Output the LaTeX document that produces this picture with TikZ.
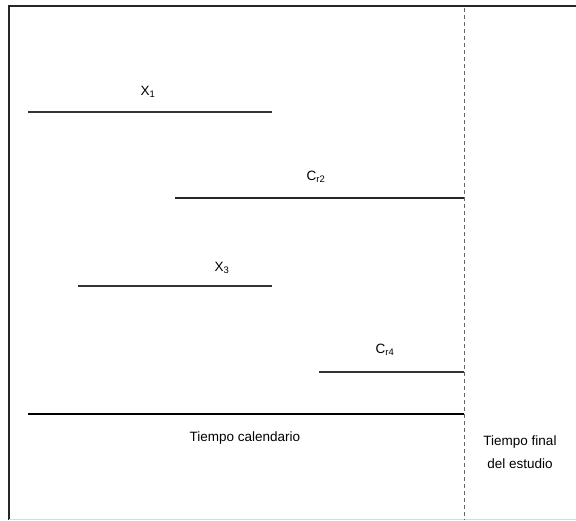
\documentclass[tikz,border=0pt]{standalone}
\usepackage{fontspec}
\setmainfont{Liberation Sans}
\usetikzlibrary{positioning}
\tikzset{span/.style = {draw, line width = 1.3pt, color = black!80}}
\tikzset{thickspan/.style = {draw, line width = 1.9pt, color = black!85}}
\tikzset{lab/.style = {inner sep = 0, font = \fontsize{13.5}{23}\selectfont}}

\begin{document}
\begin{tikzpicture}[x = 1pt, y = -1pt]
      \useasboundingbox (0, 0) rectangle (576, 520);
      % frame and end of study
      \draw [line width = 2.2pt, black!85] (576, 6) -- (9, 6) -- (9, 520);
      \draw [black!15] (9, 519.5) -- (576, 519.5);
      \coordinate (top) at (464, 8);
      \coordinate (bot) at (464, 520);
      \draw [dashed, black!60, dash pattern = on 4pt off 3pt] (top) -- (bot);
      % follow-up periods
      \coordinate (x1a) at (28, 112);
      \coordinate (x1b) at (272, 112);
      \draw [span] (x1a) -- (x1b);
      \node [lab] (x1) at (148, 92) {X\textsubscript{1}};
      \coordinate (c2a) at (175, 198);
      \coordinate (c2b) at (464, 198);
      \draw [thickspan] (c2a) -- (c2b);
      \node [lab] (c2) at (316, 177) {C\textsubscript{r2}};
      \coordinate (x3a) at (78, 286);
      \coordinate (x3b) at (272, 286);
      \draw [span] (x3a) -- (x3b);
      \node [lab] (x3) at (222, 268) {X\textsubscript{3}};
      \coordinate (c4a) at (319, 372);
      \coordinate (c4b) at (464, 372);
      \draw [span] (c4a) -- (c4b);
      \node [lab] (c4) at (385, 350) {C\textsubscript{r4}};
      % calendar time axis
      \coordinate (ta) at (28, 414);
      \coordinate (tb) at (464, 414);
      \draw [thickspan, black] (ta) -- (tb);
      \node [lab] (cal) at (245, 438) {Tiempo calendario};
      \node [lab, align = center] (fin) at (520, 452) {Tiempo final\\del estudio};
\end{tikzpicture}
\end{document}
